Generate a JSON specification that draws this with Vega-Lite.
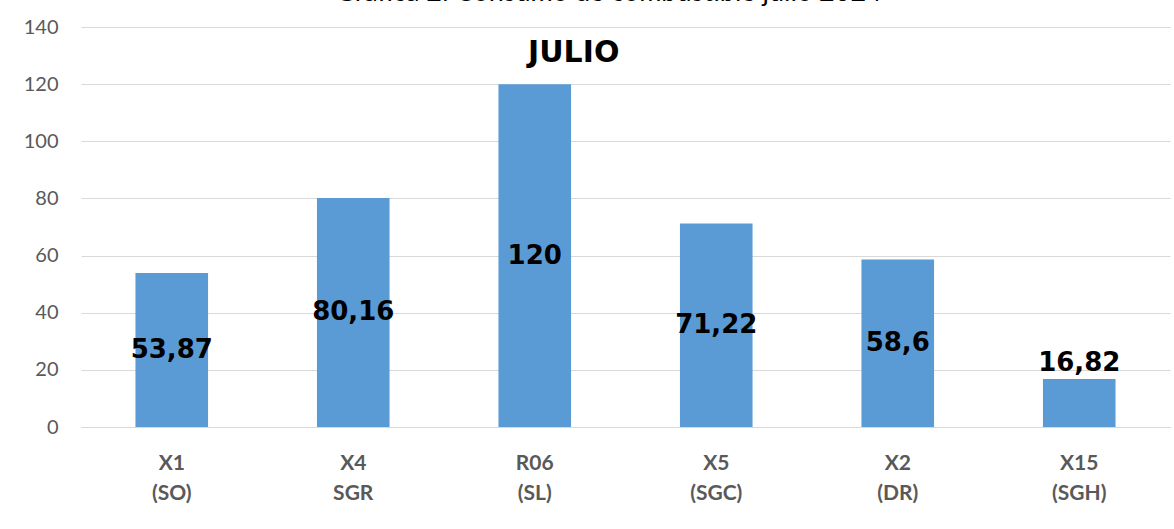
{
  "$schema": "https://vega.github.io/schema/vega-lite/v6.json",
  "width": 1089,
  "height": 400,
  "autosize": {"type": "none"},
  "padding": {"left": 81, "top": 27, "right": 4, "bottom": 102},
  "background": "white",
  "title": {
    "text": "Gráfica 2: Consumo de combustible julio 2024",
    "font": "Lato",
    "fontSize": 27,
    "fontWeight": "normal",
    "color": "black",
    "anchor": "middle",
    "dx": -17,
    "offset": 10
  },
  "datasets": {
    "consumo": [
      {"unidad": "X1|(SO)", "galones": 53.87, "etiqueta": "53,87"},
      {"unidad": "X4|SGR", "galones": 80.16, "etiqueta": "80,16"},
      {"unidad": "R06|(SL)", "galones": 120, "etiqueta": "120"},
      {"unidad": "X5|(SGC)", "galones": 71.22, "etiqueta": "71,22"},
      {"unidad": "X2|(DR)", "galones": 58.6, "etiqueta": "58,6"},
      {"unidad": "X15|(SGH)", "galones": 16.82, "etiqueta": "16,82"}
    ],
    "mes": [{"texto": "JULIO"}]
  },
  "config": {
    "view": {"stroke": null},
    "axis": {"labelFont": "Lato", "labelColor": "#595959", "gridColor": "#d9d9d9", "gridWidth": 1}
  },
  "encoding": {
    "x": {
      "field": "unidad",
      "type": "nominal",
      "sort": null,
      "scale": {"paddingInner": 0.6, "paddingOuter": 0.3},
      "axis": {
        "title": null,
        "labelAngle": 0,
        "labelExpr": "split(datum.label, '|')",
        "labelFontSize": 21,
        "labelFontWeight": "bold",
        "labelLineHeight": 30,
        "labelPadding": 25,
        "labelBaseline": "top",
        "ticks": false,
        "domain": true,
        "domainColor": "#d9d9d9",
        "domainWidth": 1
      }
    }
  },
  "layer": [
    {
      "data": {"name": "consumo"},
      "mark": {"type": "bar", "color": "#5b9bd5"},
      "encoding": {
        "y": {
          "field": "galones",
          "type": "quantitative",
          "scale": {"domain": [0, 140], "nice": false},
          "axis": {
            "title": null,
            "values": [0, 20, 40, 60, 80, 100, 120, 140],
            "labelFontSize": 20,
            "labelPadding": 23,
            "ticks": false,
            "domain": false,
            "grid": true
          }
        }
      }
    },
    {
      "data": {"name": "consumo"},
      "transform": [
        {"filter": "datum.galones >= 20"},
        {"calculate": "datum.galones / 2", "as": "medio"}
      ],
      "mark": {"type": "text", "font": "DejaVu Sans", "fontWeight": "bold", "fontSize": 26, "color": "black", "baseline": "middle"},
      "encoding": {
        "y": {"field": "medio", "type": "quantitative"},
        "text": {"field": "etiqueta"}
      }
    },
    {
      "data": {"name": "consumo"},
      "transform": [{"filter": "datum.galones < 20"}],
      "mark": {"type": "text", "font": "DejaVu Sans", "fontWeight": "bold", "fontSize": 26, "color": "black", "baseline": "alphabetic", "dy": -8},
      "encoding": {
        "y": {"field": "galones", "type": "quantitative"},
        "text": {"field": "etiqueta"}
      }
    },
    {
      "data": {"name": "mes"},
      "mark": {"type": "text", "font": "DejaVu Sans", "fontWeight": "bold", "fontSize": 30, "color": "black", "baseline": "middle", "dx": 39},
      "encoding": {
        "x": {"datum": "R06|(SL)"},
        "y": {"datum": 131},
        "text": {"field": "texto"}
      }
    }
  ]
}
